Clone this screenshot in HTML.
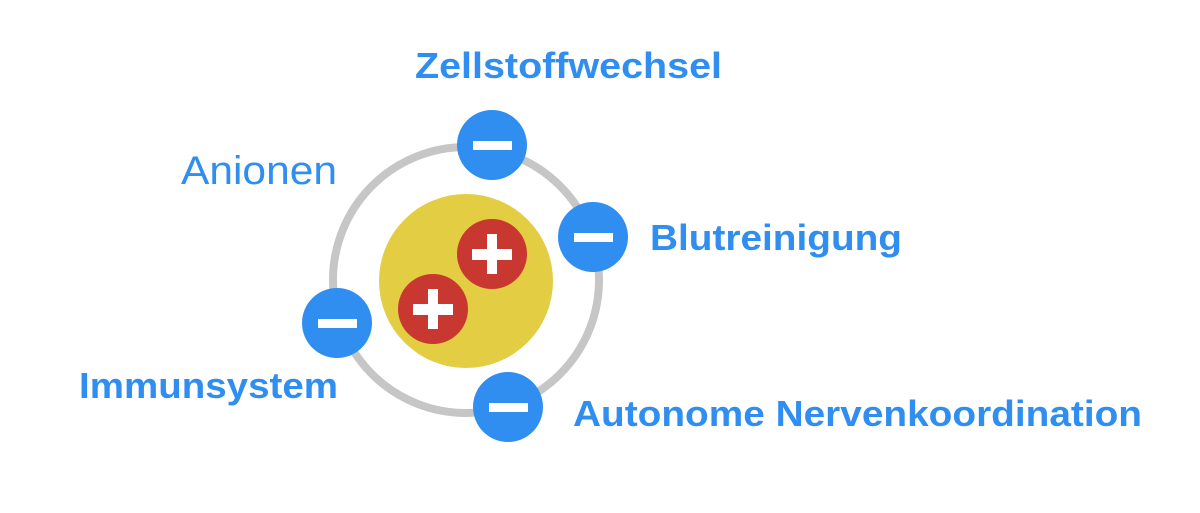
<!DOCTYPE html>
<html><head><meta charset="utf-8"><style>
html,body{margin:0;padding:0;background:#fff;}
svg{display:block;}
text{font-family:"Liberation Sans",sans-serif;fill:#2f8ef0;}
</style></head><body>
<svg width="1200" height="513" viewBox="0 0 1200 513" xmlns="http://www.w3.org/2000/svg">
<circle cx="466" cy="280" r="133" fill="none" stroke="#c6c6c6" stroke-width="8"/>
<circle cx="466" cy="281" r="87" fill="#e3cd42"/>
<circle cx="492" cy="254" r="35" fill="#c83830"/>
<rect x="472" y="249" width="40" height="11" fill="#fff"/>
<rect x="487" y="234" width="10" height="40" fill="#fff"/>
<circle cx="433" cy="309" r="35" fill="#c83830"/>
<rect x="413" y="304" width="40" height="11" fill="#fff"/>
<rect x="428" y="289" width="10" height="40" fill="#fff"/>
<g fill="#2f8ef0">
<circle cx="492" cy="145" r="35"/>
<circle cx="593" cy="237" r="35"/>
<circle cx="337" cy="323" r="35"/>
<circle cx="508" cy="407" r="35"/>
</g>
<g fill="#fff">
<rect x="473" y="141" width="39" height="9"/>
<rect x="574" y="233" width="39" height="9"/>
<rect x="318" y="319" width="39" height="9"/>
<rect x="489" y="403" width="39" height="9"/>
</g>
<text x="415" y="78" font-size="36" font-weight="bold" textLength="307" lengthAdjust="spacingAndGlyphs">Zellstoffwechsel</text>
<text x="181" y="184" font-size="40" textLength="156" lengthAdjust="spacingAndGlyphs">Anionen</text>
<text x="650" y="250" font-size="36" font-weight="bold" textLength="252" lengthAdjust="spacingAndGlyphs">Blutreinigung</text>
<text x="79" y="398" font-size="36" font-weight="bold" textLength="259" lengthAdjust="spacingAndGlyphs">Immunsystem</text>
<text x="573" y="426" font-size="36" font-weight="bold" textLength="569" lengthAdjust="spacingAndGlyphs">Autonome Nervenkoordination</text>
</svg>
</body></html>
